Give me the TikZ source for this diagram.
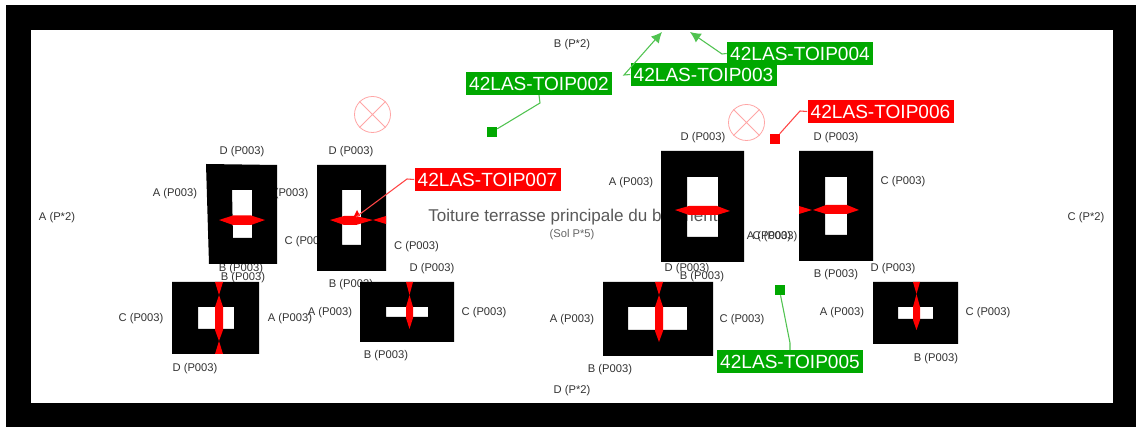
\documentclass[tikz,border=0pt]{standalone}
\usepackage{fontspec}
\usetikzlibrary{arrows.meta}
\setmainfont{Liberation Sans}
\definecolor{leadgreen}{RGB}{80,195,80}
\definecolor{leadred}{RGB}{255,70,70}
\definecolor{taggreen}{RGB}{0,168,0}
\tikzset{
  lbl/.style={font=\fontsize{8.4}{9}\selectfont,text=black!80,inner sep=0pt},
  tag/.style={font=\fontsize{14.3}{16}\selectfont,text=white,inner sep=1.5pt,minimum height=17pt,minimum width=109.5pt},
  taggrn/.style={tag,fill=taggreen},
  tagred/.style={tag,fill=red},
  sensor/.style={minimum size=7.5pt,inner sep=0pt},
  hatch/.style={draw=red!35,line width=.6pt},
  wall/.style={fill=black,even odd rule},
  beam/.style={fill=red},
  lead/.style={line width=.8pt},
  leadarrow/.style={lead,-{Latex[length=8pt,width=8pt]}}
}
\begin{document}
\begin{tikzpicture}[x=0.75pt,y=-0.75pt]
\useasboundingbox (0,0) rectangle (1136,427);
% frame
\fill[black] (6,5) rectangle (1136,427);
\fill[white] (31,30) rectangle (1113,403);

% texts
\node[lbl] at (57,218) {A (P*2)};
\node[lbl] at (572,44.5) {B (P*2)};
\node[lbl] at (1086,218) {C (P*2)};
\node[lbl] at (572,391) {D (P*2)};
\node[font=\fontsize{12.8}{14}\selectfont,text=black!65,inner sep=0pt] at (573,217.5) {Toiture terrasse principale du bâtiment};
\node[lbl,text=black!60] at (572,234.5) {(Sol P*5)};

\foreach \px/\py/\txt in {
  242/152/D, 175/194/A, 286/194/C, 307/242/C, 241/269/B, 243/278/B,
  351/152/D, 416.5/247/C, 351/285/B, 432/269/D, 330/313/A, 484/313/C, 386/356/B,
  141/319/C, 290/319/A, 195/369/D,
  703/138/D, 631/183/A, 903/182/C, 836/138/D, 769/237/A, 775/237/C, 687/269/D, 702/277/B, 836/275/B, 893/269/D,
  572/320/A, 742/320/C, 610/370/B, 842/313/A, 988/313/C, 936/359/B}
  \node[lbl] at (\px,\py) {\txt{} (P003)};

% left pairs
\fill[wall] (206,164) -- (277,165) -- (277,264) -- (209,264) -- cycle (232,190) -- (252,190) -- (252,238) -- (233,238) -- cycle;
\fill[beam] (219,220) -- (233,215.5) -- (251,215.5) -- (265,220) -- (251,225) -- (233,225) -- cycle;
\fill[wall] (317,165) rectangle (386,271) (342,190) rectangle (361,245);
\fill[beam] (330,220) -- (344,216) -- (356,216) -- (373,220) -- (356,225) -- (344,225) -- cycle;
\fill[beam] (354,216) -- (357,210) -- (360,216) -- cycle;
\fill[beam] (373,220) -- (386,216) -- (386,224) -- cycle;
\fill[wall] (172,282) rectangle (259,354) (198,307) rectangle (234,329);
\fill[beam] (215,282) -- (223,282) -- (219,295) -- cycle;
\fill[beam] (219,295) -- (223,307) -- (223,330) -- (219,341) -- (215,330) -- (215,307) -- cycle;
\fill[beam] (219,341) -- (223,354) -- (215,354) -- cycle;
\fill[wall] (360,282) rectangle (454,342) (386,307) rectangle (428,317);
\fill[beam] (406,282) -- (413,282) -- (409.5,295) -- cycle;
\fill[beam] (409.5,295) -- (413,307) -- (413,318) -- (409.5,329) -- (406,318) -- (406,307) -- cycle;

% right pairs
\fill[wall] (661,151) rectangle (744,262) (687,177) rectangle (718,237);
\fill[beam] (675,210) -- (689,206) -- (717,206) -- (730,211) -- (717,215) -- (689,215) -- cycle;
\fill[wall] (799,151) rectangle (873,261) (825,177) rectangle (847,235);
\fill[beam] (799,206) -- (812,210) -- (799,214) -- cycle;
\fill[beam] (813,210) -- (826,205) -- (847,205) -- (859,210) -- (847,214) -- (826,214) -- cycle;
\fill[wall] (603,282) rectangle (713,356) (628,307) rectangle (687,330);
\fill[beam] (655,282) -- (663,282) -- (659,295) -- cycle;
\fill[beam] (659,295) -- (663,307) -- (663,331) -- (659,342) -- (655,331) -- (655,307) -- cycle;
\fill[wall] (873,282) rectangle (958,344) (898,307) rectangle (933,319);
\fill[beam] (913,282) -- (920,282) -- (916.5,294) -- cycle;
\fill[beam] (916.5,294) -- (920,307) -- (920,320) -- (916.5,330) -- (913,320) -- (913,307) -- cycle;

% lamps
\node[circle,hatch,minimum size=27pt,inner sep=0pt] (lampa) at (372.5,114.5) {};
\draw[hatch] (lampa.45) -- (lampa.225) (lampa.135) -- (lampa.315);
\node[circle,hatch,minimum size=27pt,inner sep=0pt] (lampb) at (746.5,122.5) {};
\draw[hatch] (lampb.45) -- (lampb.225) (lampb.135) -- (lampb.315);

% tags
\node[taggrn] (tagb) at (539,83.5) {42LAS-TOIP002};
\node[taggrn] (tagc) at (703.5,74.5) {42LAS-TOIP003};
\node[taggrn] (tagd) at (800,53.5) {42LAS-TOIP004};
\node[taggrn] (tage) at (790,361.5) {42LAS-TOIP005};
\node[tagred] (tagf) at (880.5,111.5) {42LAS-TOIP006};
\node[tagred] (tagg) at (487.5,179.5) {42LAS-TOIP007};

\node[sensor,fill=taggreen] (senb) at (492,132) {};
\node[sensor,fill=taggreen] (sene) at (779.5,290) {};
\node[sensor,fill=red] (senf) at (775,139) {};
\coordinate (endc) at (662,32);
\coordinate (endd) at (690,32);
\coordinate (endg) at (356,217);

% leaders
\draw[leadgreen,lead] (senb) -- (540,103) -- (tagb.south);
\draw[leadgreen,leadarrow] (tagc.west) -- (624,75) -- (endc);
\draw[leadgreen,leadarrow] (tagd.west) -- (722,54) -- (endd);
\draw[leadgreen,lead] (sene) -- (790,343) -- (tage.north);
\draw[leadred,lead] (senf) -- (800,111) -- (tagf.west);
\draw[leadred,lead] (endg) -- (407,179) -- (tagg.west);
\end{tikzpicture}
\end{document}
